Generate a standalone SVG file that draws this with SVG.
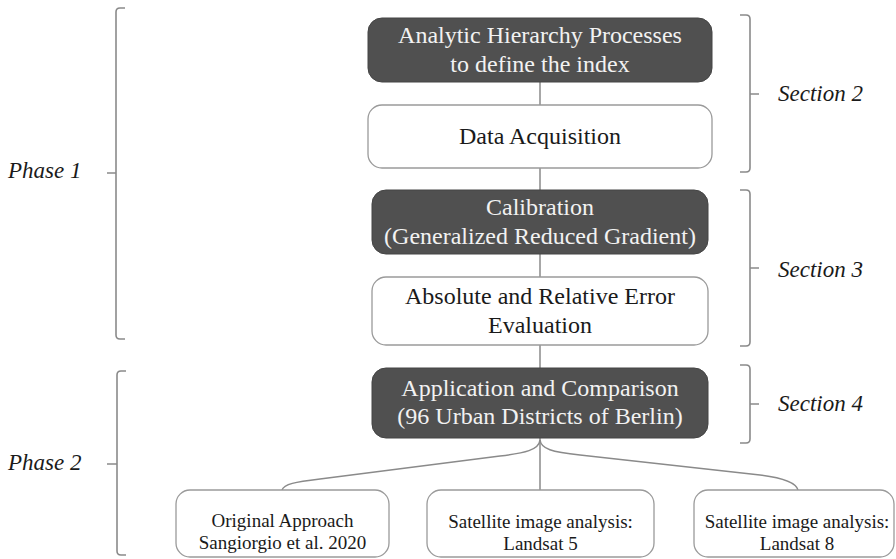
<svg xmlns="http://www.w3.org/2000/svg" width="896" height="559" viewBox="0 0 896 559">
<style>
.dark{fill:#505050;stroke:#444;stroke-width:1}
.light{fill:#fff;stroke:#9a9a9a;stroke-width:1.3}
.t{font-family:"Liberation Serif","Times New Roman",serif;text-anchor:middle}
.tw{fill:#f2f2f2;font-size:24px}
.tb{fill:#1a1a1a;font-size:24px}
.ts{fill:#1a1a1a;font-size:19px}
.lab{font-family:"Liberation Serif","Times New Roman",serif;font-style:italic;font-size:23px;fill:#1a1a1a}
.ln{fill:none;stroke:#8a8a8a;stroke-width:1.5}
.br{fill:none;stroke:#8a8a8a;stroke-width:1.6}
</style>
<rect width="896" height="559" fill="#fff"/>
<g id="connectors">
<path class="ln" d="M540,82V105M540,168V190M540,254V277M540,345V368M540,438V490"/>
<path class="ln" d="M540,440C539,450 525,453 500,456L320,479C295,482 284,484 282,490"/>
<path class="ln" d="M540,440C541,449 552,452 580,455L760,475C785,478 796,483 798,490"/>
</g>
<g id="brackets">
<path class="br" d="M125,8H120Q116,8 116,12V335Q116,339 120,339H125M116,173H107"/>
<path class="br" d="M126,371H121Q117,371 117,375V551Q117,555 121,555H126M117,464H107"/>
<path class="br" d="M740,15H746Q750,15 750,19V168Q750,172 746,172H740M750,94H759"/>
<path class="br" d="M740,190H746Q750,190 750,194V342Q750,346 746,346H740M750,268H759"/>
<path class="br" d="M740,365H746Q750,365 750,369V439Q750,443 746,443H740M750,404H759"/>
</g>
<g id="labels">
<text class="lab" x="8" y="178">Phase 1</text>
<text class="lab" x="8" y="470">Phase 2</text>
<text class="lab" x="778" y="101">Section 2</text>
<text class="lab" x="778" y="277">Section 3</text>
<text class="lab" x="778" y="411">Section 4</text>
</g>
<g id="n1"><rect class="dark" x="368" y="18" width="344" height="64" rx="14"/>
<text class="t tw" x="540" y="43">Analytic Hierarchy Processes</text>
<text class="t tw" x="540" y="72">to define the index</text></g>
<g id="n2"><rect class="light" x="368" y="105" width="344" height="63" rx="14"/>
<text class="t tb" x="540" y="144">Data Acquisition</text></g>
<g id="n3"><rect class="dark" x="372" y="190" width="336" height="64" rx="14"/>
<text class="t tw" x="540" y="215">Calibration</text>
<text class="t tw" x="540" y="244">(Generalized Reduced Gradient)</text></g>
<g id="n4"><rect class="light" x="372" y="277" width="336" height="68" rx="14"/>
<text class="t tb" x="540" y="304">Absolute and Relative Error</text>
<text class="t tb" x="540" y="333">Evaluation</text></g>
<g id="n5"><rect class="dark" x="372" y="368" width="336" height="70" rx="14"/>
<text class="t tw" x="540" y="396">Application and Comparison</text>
<text class="t tw" x="540" y="424">(96 Urban Districts of Berlin)</text></g>
<g id="n6"><rect class="light" x="176" y="490" width="213" height="67" rx="14"/>
<text class="t ts" x="282.5" y="527">Original Approach</text>
<text class="t ts" x="282.5" y="549">Sangiorgio et al. 2020</text></g>
<g id="n7"><rect class="light" x="427" y="490" width="227" height="67" rx="14"/>
<text class="t ts" x="540.5" y="528">Satellite image analysis:</text>
<text class="t ts" x="540.5" y="550">Landsat 5</text></g>
<g id="n8"><rect class="light" x="694" y="490" width="200" height="67" rx="14"/>
<text class="t ts" x="797" y="528">Satellite image analysis:</text>
<text class="t ts" x="797" y="550">Landsat 8</text></g>
</svg>
